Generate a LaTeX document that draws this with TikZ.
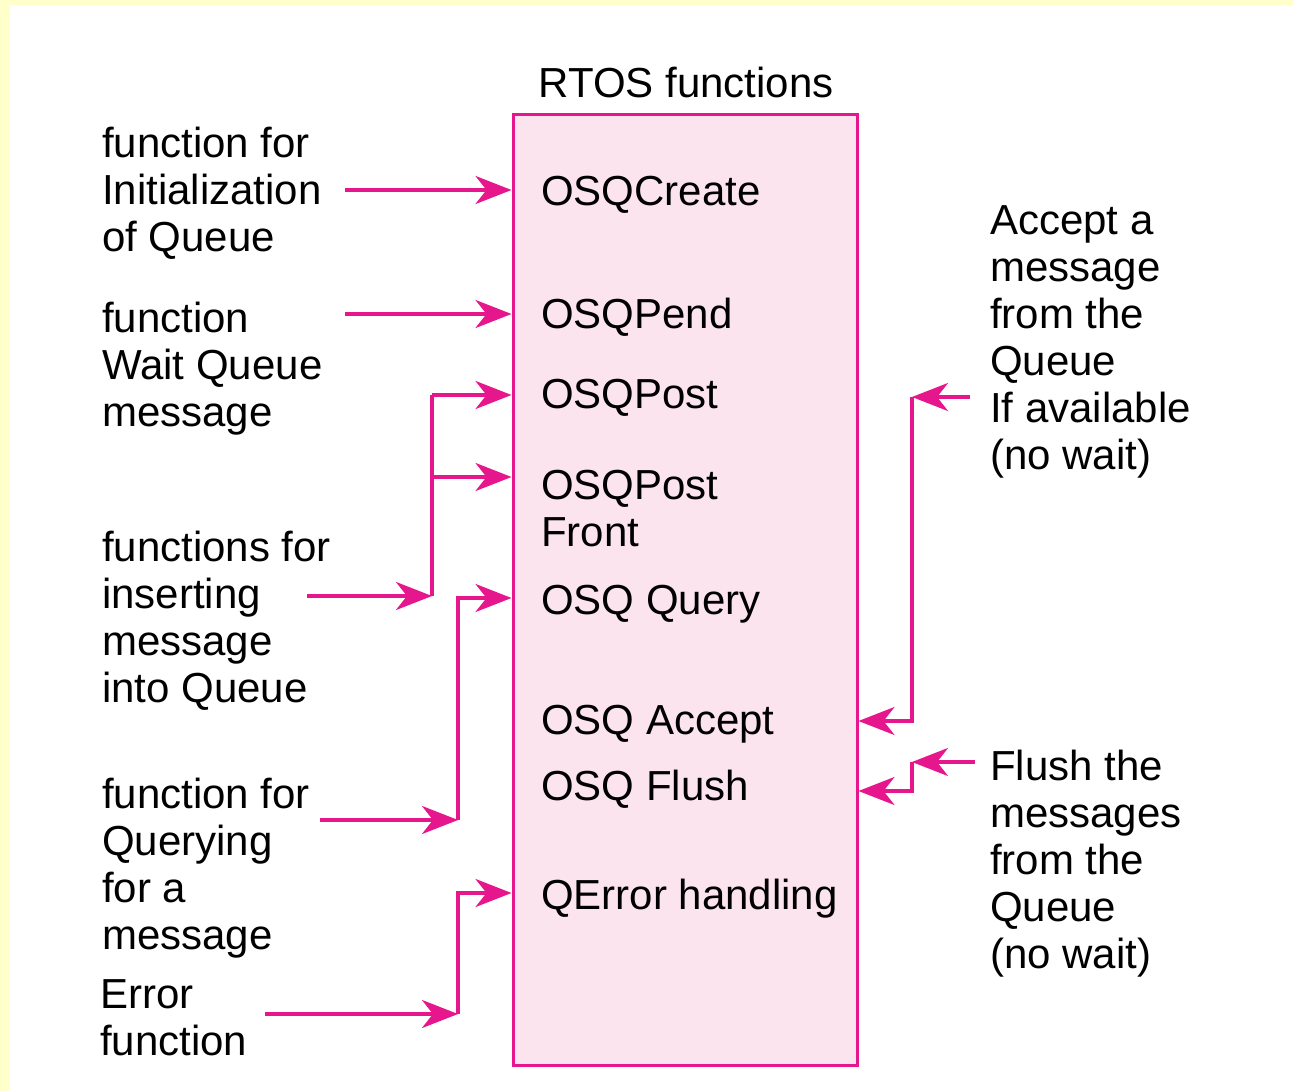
\documentclass[tikz,border=0pt]{standalone}
\usepackage{fontspec}
\setmainfont{Liberation Sans}
\usetikzlibrary{arrows.meta}
\definecolor{qmagenta}{HTML}{E6168C}
\definecolor{qpink}{HTML}{FCE4EE}
\definecolor{qyellow}{HTML}{FFFFCC}
\begin{document}
\begin{tikzpicture}[x=1pt,y=-1pt,
    qtext/.style={anchor=west, align=left, inner sep=0pt, font=\fontsize{42}{47}\selectfont},
    link/.style={draw=qmagenta, line width=3.5pt, -{Stealth[length=36pt,width=28pt,inset=11pt]}},
    wire/.style={draw=qmagenta, line width=3.5pt}]
    % background
    \fill[qyellow] (0,0) rectangle (1293,1091);
    \fill[white] (10,5) rectangle (1293,1091);
    \useasboundingbox (0,0) rectangle (1293,1091);

    % RTOS box and its functions
    \node[draw=qmagenta, fill=qpink, line width=3pt, minimum width=344pt, minimum height=950pt] (rtos) at (685,590) {};
    \node[qtext, anchor=center] (title) at (686,82) {RTOS functions};
    \node[qtext] (create) at (541,195) {OSQCreate};
    \node[qtext] (pend) at (541,317) {OSQPend};
    \node[qtext] (post) at (541,398) {OSQPost};
    \node[qtext] (front) at (541,509) {OSQPost\\Front};
    \node[qtext] (query) at (541,604) {OSQ Query};
    \node[qtext] (accept) at (541,724) {OSQ Accept};
    \node[qtext] (flush) at (541,789) {OSQ Flush};
    \node[qtext] (qerr) at (541,899) {QError handling};

    % left descriptions
    \node[qtext] (init) at (102,193) {function for\\Initialization\\of Queue};
    \node[qtext] (wait) at (102,369) {function\\Wait Queue\\message};
    \node[qtext] (insert) at (102,621) {functions for\\inserting\\message\\into Queue};
    \node[qtext] (querying) at (102,868) {function for\\Querying\\for a\\message};
    \node[qtext] (error) at (100,1018) {Error\\function};

    % right descriptions
    \node[qtext] (acctext) at (990,342) {Accept a\\message\\from the\\Queue\\If available\\(no wait)};
    \node[qtext] (flushtext) at (990,864) {Flush the\\messages\\from the\\Queue\\(no wait)};

    % free ends of the connectors
    \coordinate (initin) at (345,190);
    \coordinate (waitin) at (345,314);
    \coordinate (insin) at (307,596);
    \coordinate (insbus) at (432,596);
    \coordinate (postin) at (432,395);
    \coordinate (frontin) at (432,477);
    \coordinate (qryin) at (320,820);
    \coordinate (qrybus) at (458,820);
    \coordinate (errin) at (265,1014);
    \coordinate (errbus) at (458,1014);
    \coordinate (accin) at (970,397);
    \coordinate (accbus) at (912,397);
    \coordinate (flin) at (975,762);
    \coordinate (flbus) at (912,762);

    \draw[link] (initin) -- (initin -| rtos.west);
    \draw[link] (waitin) -- (waitin -| rtos.west);

    \draw[link] (insin) -- (insbus);
    \draw[wire] (insbus) -- (postin);
    \draw[link] (postin) -- (postin -| rtos.west);
    \draw[link] (frontin) -- (frontin -| rtos.west);

    \draw[link] (qryin) -- (qrybus);
    \draw[link] (qrybus) |- ([yshift=6pt]query.west -| rtos.west);
    \draw[link] (errin) -- (errbus);
    \draw[link] (errbus) |- ([yshift=6pt]qerr.west -| rtos.west);

    \draw[link] (accin) -- (accbus);
    \draw[link] (accbus) |- ([yshift=3pt]accept.west -| rtos.east);
    \draw[link] (flin) -- (flbus);
    \draw[link] (flbus) |- ([yshift=-2pt]flush.west -| rtos.east);
\end{tikzpicture}
\end{document}
